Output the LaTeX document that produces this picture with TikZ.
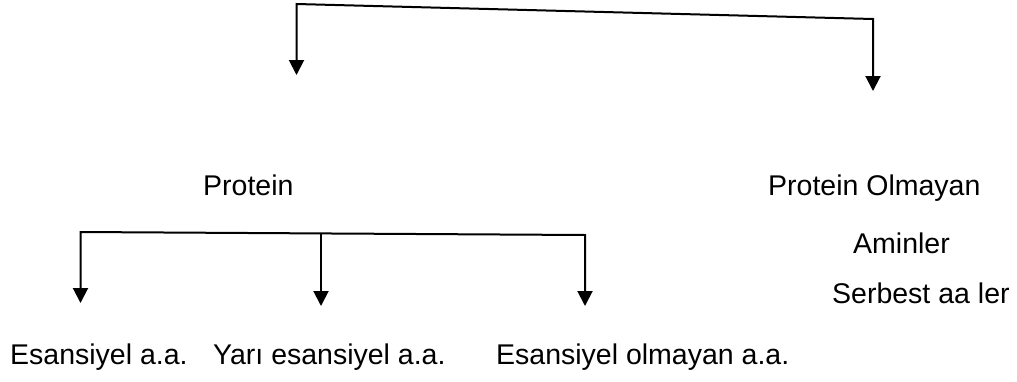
\documentclass[tikz,border=0pt]{standalone}
\usepackage{fontspec}
\setmainfont{Liberation Sans}
\usepackage{tikz}
\usetikzlibrary{arrows.meta,positioning,calc}
\tikzstyle{term}=[inner sep=0pt,anchor=base west,font=\fontsize{28.5}{34}\selectfont]
\tikzstyle{link}=[line width=2pt,line join=miter,-{Triangle[width=15pt,length=15pt]}]
\tikzstyle{bothlink}=[line width=2pt,line join=miter,{Triangle[width=15pt,length=15pt]}-{Triangle[width=15pt,length=15pt]}]

\begin{document}
\begin{tikzpicture}[x=1pt,y=-1pt]
\useasboundingbox (0,0) rectangle (1017,381);
% upper split
\coordinate (topL) at (296.5,4);
\coordinate (topR) at (873,19);
\coordinate (tipL) at (296.5,75);
\coordinate (tipR) at (873,91);
\draw[bothlink] (tipL) -- (topL) -- (topR) -- (tipR);
% texts
\node [term] (prot) at (203,195) {Protein};
\node [term] (nonprot) at (768,195) {Protein Olmayan};
\node [term] (amin) at (853,253) {Aminler};
\node [term] (serb) at (832,303) {Serbest aa ler};
\node [term] (ess) at (10,364) {Esansiyel a.a.};
\node [term] (semi) at (213,364) {Yarı esansiyel a.a.};
\node [term] (noness) at (496,364) {Esansiyel olmayan a.a.};
% lower split
\coordinate (barL) at (80.5,232);
\coordinate (barM) at (321,234);
\coordinate (barR) at (585,235);
\coordinate (tipA) at (80.5,303);
\coordinate (tipB) at (321,306);
\coordinate (tipC) at (585,306);
\draw[bothlink] (tipA) -- (barL) -- (barR) -- (tipC);
\draw[link] (barM) -- (tipB);
\end{tikzpicture}
\end{document}
